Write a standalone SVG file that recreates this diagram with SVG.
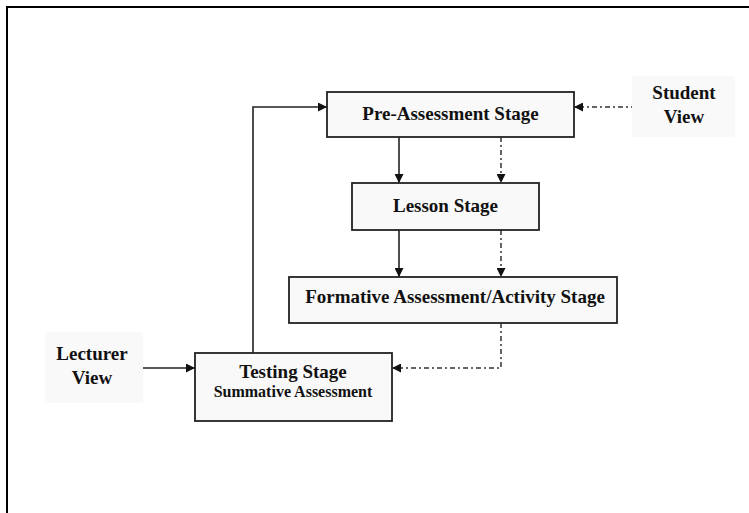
<svg xmlns="http://www.w3.org/2000/svg" width="749" height="513" viewBox="0 0 749 513">
  <style>
    .box { fill: #f9f9f9; stroke: #222; stroke-width: 1.8; }
    .label-bg { fill: #f9f9f9; stroke: none; }
    .t { font-family: "Liberation Serif", "Times New Roman", serif; font-weight: bold; font-size: 19px; fill: #111; text-anchor: middle; }
    .ts { font-size: 16px; }
    .solid { fill: none; stroke: #222; stroke-width: 1.6; }
    .dashdot { fill: none; stroke: #333; stroke-width: 1.5; stroke-dasharray: 5 3 2 3; }
  </style>
  <defs>
    <marker id="arrow" viewBox="0 0 10 10" refX="10" refY="5" markerWidth="9" markerHeight="9" markerUnits="userSpaceOnUse" orient="auto">
      <path d="M0,0 L10,5 L0,10 z" fill="#111"/>
    </marker>
  </defs>

  <rect width="749" height="513" fill="#fff"/>
  <!-- frame -->
  <path d="M7,513 V7 H749" fill="none" stroke="#000" stroke-width="2"/>

  <g id="connectors">
    <!-- testing back to pre-assessment -->
    <path class="solid" d="M253,353 V107 H327" marker-end="url(#arrow)"/>
    <!-- student view into pre-assessment -->
    <path class="dashdot" d="M636,107 H574" marker-end="url(#arrow)"/>
    <!-- pre-assessment to lesson -->
    <path class="solid" d="M399,137 V183" marker-end="url(#arrow)"/>
    <path class="dashdot" d="M501,137 V183" marker-end="url(#arrow)"/>
    <!-- lesson to formative -->
    <path class="solid" d="M399,230 V277" marker-end="url(#arrow)"/>
    <path class="dashdot" d="M501,230 V277" marker-end="url(#arrow)"/>
    <!-- formative to testing -->
    <path class="dashdot" d="M501,323 V368 H392" marker-end="url(#arrow)"/>
    <!-- lecturer view into testing -->
    <path class="solid" d="M143,368 H195" marker-end="url(#arrow)"/>
  </g>

  <g id="pre-assessment">
    <rect class="box" x="327" y="92" width="247" height="45"/>
    <text class="t" x="450.5" y="120">Pre-Assessment Stage</text>
  </g>

  <g id="student-view">
    <rect class="label-bg" x="632" y="76" width="103" height="61"/>
    <text class="t" x="684" y="99">Student</text>
    <text class="t" x="684" y="123">View</text>
  </g>

  <g id="lesson">
    <rect class="box" x="352" y="183" width="187" height="47"/>
    <text class="t" x="445.5" y="212">Lesson Stage</text>
  </g>

  <g id="formative">
    <rect class="box" x="289" y="277" width="328" height="46"/>
    <text class="t" x="455" y="303">Formative Assessment/Activity Stage</text>
  </g>

  <g id="testing">
    <rect class="box" x="195" y="353" width="197" height="68"/>
    <text class="t" x="293" y="378">Testing Stage</text>
    <text class="t ts" x="293" y="397">Summative Assessment</text>
  </g>

  <g id="lecturer-view">
    <rect class="label-bg" x="45" y="332" width="98" height="71"/>
    <text class="t" x="92" y="360">Lecturer</text>
    <text class="t" x="92" y="384">View</text>
  </g>
</svg>
